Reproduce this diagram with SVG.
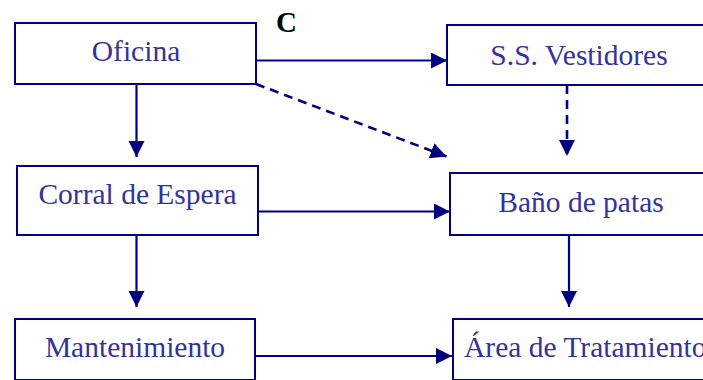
<svg xmlns="http://www.w3.org/2000/svg" width="703" height="380" viewBox="0 0 703 380">
  <style>
    .box { fill: #ffffff; stroke: #000080; stroke-width: 2; }
    .lbl { font-family: "Liberation Serif", "Times New Roman", serif; font-size: 29.5px; fill: #333399; }
    .mid { text-anchor: middle; }
    .flow { stroke: #000080; stroke-width: 2.2; fill: none; marker-end: url(#head); }
    .dash { stroke-width: 2.6; stroke-dasharray: 9 6; }
    .mark { font-family: "Liberation Serif", "Times New Roman", serif; font-size: 29px; font-weight: bold; fill: #000000; }
  </style>
  <defs>
    <marker id="head" markerUnits="userSpaceOnUse" markerWidth="17" markerHeight="17" refX="16" refY="8" orient="auto">
      <path d="M0,0 L16,8 L0,16 Z" fill="#000080"/>
    </marker>
  </defs>
  <rect width="703" height="380" fill="#ffffff"/>

  <g id="connectors">
    <line class="flow" x1="255" y1="60.5" x2="447" y2="60.5"/>
    <path class="flow dash" d="M256,84 L446.5,156.5"/>
    <path class="flow dash" d="M567,85 L567,156"/>
    <line class="flow" x1="136.5" y1="84" x2="136.5" y2="157"/>
    <line class="flow" x1="256" y1="211.5" x2="450" y2="211.5"/>
    <line class="flow" x1="136.5" y1="235" x2="136.5" y2="307"/>
    <line class="flow" x1="569" y1="235" x2="569" y2="307"/>
    <line class="flow" x1="255" y1="356" x2="452" y2="356"/>
  </g>

  <g id="oficina">
    <rect class="box" x="15" y="23" width="241" height="61"/>
    <text class="lbl mid" x="136" y="61">Oficina</text>
  </g>
  <g id="vestidores">
    <rect class="box" x="447" y="25" width="270" height="60"/>
    <text class="lbl mid" x="579" y="65">S.S. Vestidores</text>
  </g>
  <g id="corral">
    <rect class="box" x="17" y="166" width="241" height="69"/>
    <text class="lbl mid" x="137.5" y="204">Corral de Espera</text>
  </g>
  <g id="bano">
    <rect class="box" x="450" y="173" width="270" height="62"/>
    <text class="lbl mid" x="581" y="211.5">Baño de patas</text>
  </g>
  <g id="mantenimiento">
    <rect class="box" x="15" y="319" width="240" height="61"/>
    <text class="lbl mid" x="135" y="356.5">Mantenimiento</text>
  </g>
  <g id="tratamiento">
    <rect class="box" x="453" y="319" width="270" height="61"/>
    <text class="lbl" x="464" y="357">Área de Tratamiento</text>
  </g>

  <text class="mark" x="276" y="31.5">C</text>
</svg>
